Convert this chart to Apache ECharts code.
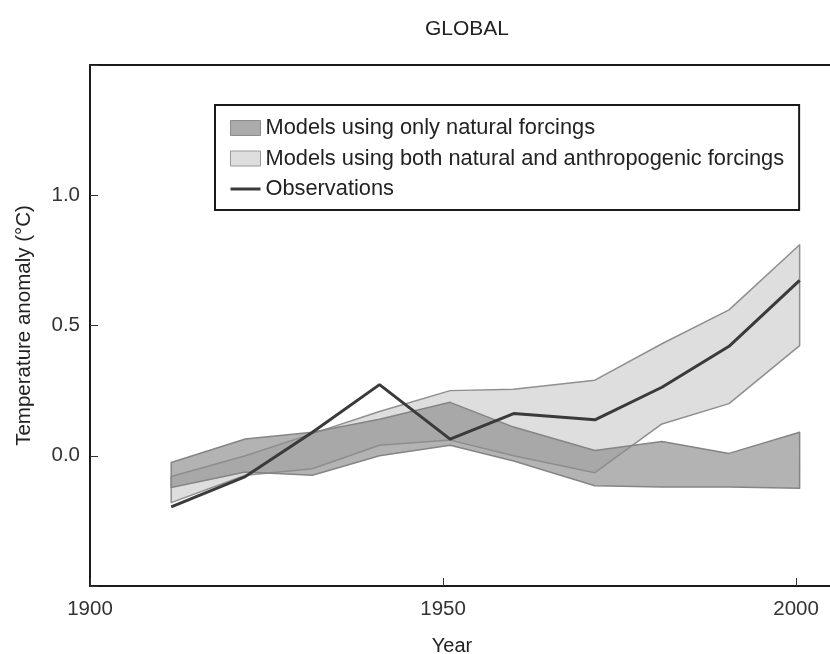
<!DOCTYPE html>
<html>
<head>
<meta charset="utf-8">
<script src="https://cdn.jsdelivr.net/npm/echarts@6/dist/echarts.min.js"></script>
<style>
  html, body { margin: 0; padding: 0; background: #ffffff; }
  #chart { width: 830px; height: 654px; }
</style>
</head>
<body>
<div id="chart"></div>
<script>
// Decade-centred sample years
const years = [1911.5, 1922, 1931.5, 1941, 1951, 1960, 1971.5, 1981, 1990.5, 2000.5];
// Observed decadal temperature anomaly (°C)
const observations = [-0.196, -0.08, 0.09, 0.273, 0.064, 0.162, 0.138, 0.263, 0.42, 0.673];
// Models using only natural forcings (range)
const naturalLow  = [-0.122, -0.062, -0.075, 0.0, 0.04, -0.02, -0.115, -0.12, -0.12, -0.125];
const naturalHigh = [-0.026, 0.064, 0.09, 0.14, 0.205, 0.11, 0.02, 0.055, 0.009, 0.09];
// Models using both natural and anthropogenic forcings (range)
const bothLow  = [-0.18, -0.075, -0.05, 0.04, 0.06, 0.0, -0.065, 0.122, 0.2, 0.423];
const bothHigh = [-0.08, 0.0, 0.085, 0.17, 0.25, 0.255, 0.29, 0.43, 0.56, 0.81];

const xTicks = [1900, 1950, 2000];
const yTicks = [0.0, 0.5, 1.0];

const FONT = 'Liberation Sans, Arial, Helvetica, sans-serif';
const NAT_NAME = 'Models using only natural forcings';
const BOTH_NAME = 'Models using both natural and anthropogenic forcings';
const OBS_NAME = 'Observations';

function band(name, low, high, fill, stroke, z) {
  return {
    type: 'custom',
    name: name,
    z: z,
    silent: true,
    xAxisIndex: 0,
    yAxisIndex: 0,
    data: [[years[0], low[0]]],
    itemStyle: { color: fill, borderColor: stroke, borderWidth: 1 },
    renderItem: function (params, api) {
      const pts = [];
      for (let i = 0; i < years.length; i++) pts.push(api.coord([years[i], high[i]]));
      for (let i = years.length - 1; i >= 0; i--) pts.push(api.coord([years[i], low[i]]));
      return {
        type: 'polygon',
        shape: { points: pts },
        style: { fill: fill, stroke: stroke, lineWidth: 1.5, lineJoin: 'round' }
      };
    }
  };
}

const chart = echarts.init(document.getElementById('chart'), null, { renderer: 'canvas' });
chart.setOption({
  animation: false,
  backgroundColor: '#ffffff',
  textStyle: { fontFamily: FONT },
  title: {
    text: 'GLOBAL',
    left: 420,
    top: 14,
    textStyle: { fontFamily: FONT, fontSize: 21, fontWeight: 'normal', color: '#222' }
  },
  legend: {
    orient: 'vertical',
    left: 215,
    top: 105,
    padding: [12, 15, 10, 15],
    itemGap: 8.5,
    itemWidth: 30,
    itemHeight: 15,
    borderColor: '#1a1a1a',
    borderWidth: 2,
    backgroundColor: '#ffffff',
    textStyle: { fontFamily: FONT, fontSize: 21.8, color: '#222', lineHeight: 21 },
    data: [
      { name: NAT_NAME, icon: 'rect', itemStyle: { color: '#ababab', borderColor: '#8c8c8c', borderWidth: 1 } },
      { name: BOTH_NAME, icon: 'rect', itemStyle: { color: '#dedede', borderColor: '#999999', borderWidth: 1 } },
      { name: OBS_NAME, icon: 'path://M0,0 L30,0 L30,3 L0,3 Z', itemStyle: { color: '#3a3a3a', borderWidth: 0 } }
    ]
  },
  grid: {
    left: 90,
    top: 65,
    width: 740,
    height: 521,
    outerBoundsMode: 'none',
    containLabel: false,
    show: false
  },
  xAxis: [
    {
      type: 'value',
      min: 1900,
      max: 2004.8,
      interval: 50,
      name: 'Year',
      nameLocation: 'middle',
      nameGap: 50,
      nameTextStyle: { fontFamily: FONT, fontSize: 20, color: '#222', padding: [0, 16, 0, 0] },
      axisLine: { show: true, onZero: false, lineStyle: { color: '#1a1a1a', width: 2 } },
      axisTick: { show: true, inside: true, length: 8, lineStyle: { color: '#333', width: 1 } },
      axisLabel: {
        margin: 13,
        fontFamily: FONT,
        fontSize: 20.5,
        color: '#333',
        showMaxLabel: false,
        formatter: function (v) { return xTicks.indexOf(v) >= 0 ? String(v) : ''; }
      },
      splitLine: { show: false }
    },
    {
      type: 'value',
      position: 'top',
      min: 1900,
      max: 2004.8,
      interval: 50,
      axisLine: { show: true, onZero: false, lineStyle: { color: '#1a1a1a', width: 2 } },
      axisTick: { show: false },
      axisLabel: { show: false },
      splitLine: { show: false }
    }
  ],
  yAxis: {
    type: 'value',
    min: -0.5,
    max: 1.5,
    interval: 0.5,
    name: 'Temperature anomaly (°C)',
    nameLocation: 'middle',
    nameGap: 55,
    nameTextStyle: { fontFamily: FONT, fontSize: 20.5, color: '#222' },
    axisLine: { show: true, onZero: false, lineStyle: { color: '#1a1a1a', width: 2 } },
    axisTick: { show: true, inside: true, length: 8, lineStyle: { color: '#333', width: 1 } },
    axisLabel: {
      margin: 10,
      fontFamily: FONT,
      fontSize: 20.5,
      color: '#333',
      formatter: function (v) {
        const hit = yTicks.some(function (t) { return Math.abs(t - v) < 1e-9; });
        return hit ? v.toFixed(1) : '';
      }
    },
    splitLine: { show: false }
  },
  series: [
    band(BOTH_NAME, bothLow, bothHigh, '#dedede', '#8f8f8f', 2),
    band(NAT_NAME, naturalLow, naturalHigh, 'rgba(140,140,140,0.66)', '#858585', 3),
    {
      type: 'line',
      name: OBS_NAME,
      z: 5,
      symbol: 'none',
      silent: true,
      xAxisIndex: 0,
      yAxisIndex: 0,
      data: years.map(function (y, i) { return [y, observations[i]]; }),
      lineStyle: { color: '#3a3a3a', width: 3 },
      itemStyle: { color: '#3a3a3a' }
    }
  ]
});
</script>
</body>
</html>
